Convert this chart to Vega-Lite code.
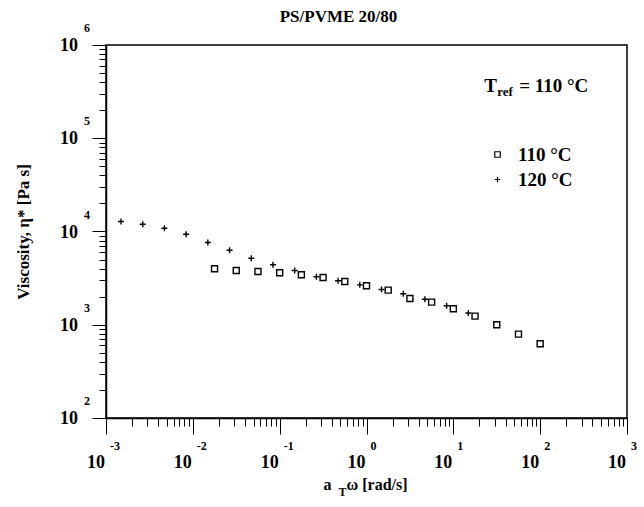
{
  "$schema": "https://vega.github.io/schema/vega-lite/v6.json",
  "autosize": "none",
  "width": 521,
  "height": 373,
  "padding": {"left": 106, "top": 45, "right": 17, "bottom": 89},
  "background": "white",
  "config": {
    "view": {"stroke": "black", "strokeWidth": 1.5},
    "axis": {
      "grid": false,
      "labels": false,
      "domainColor": "black",
      "domainWidth": 1.5,
      "tickColor": "black",
      "tickWidth": 1,
      "titleFont": "Liberation Serif",
      "titleFontWeight": "bold",
      "titleFontSize": 17,
      "titleColor": "black"
    },
    "text": {"font": "Liberation Serif", "fontWeight": "bold", "color": "black"}
  },
  "datasets": {
    "viscosity": [
      {"w": 0.01778, "eta": 3980, "T": "110 °C"},
      {"w": 0.03162, "eta": 3820, "T": "110 °C"},
      {"w": 0.05623, "eta": 3725, "T": "110 °C"},
      {"w": 0.1, "eta": 3607, "T": "110 °C"},
      {"w": 0.1778, "eta": 3434, "T": "110 °C"},
      {"w": 0.3162, "eta": 3215, "T": "110 °C"},
      {"w": 0.5623, "eta": 2912, "T": "110 °C"},
      {"w": 1.0, "eta": 2618, "T": "110 °C"},
      {"w": 1.778, "eta": 2350, "T": "110 °C"},
      {"w": 3.162, "eta": 1915, "T": "110 °C"},
      {"w": 5.623, "eta": 1747, "T": "110 °C"},
      {"w": 10.0, "eta": 1483, "T": "110 °C"},
      {"w": 17.78, "eta": 1236, "T": "110 °C"},
      {"w": 31.62, "eta": 1000, "T": "110 °C"},
      {"w": 56.23, "eta": 793, "T": "110 °C"},
      {"w": 100.0, "eta": 625, "T": "110 °C"},
      {"w": 0.001489, "eta": 12800, "T": "120 °C"},
      {"w": 0.002649, "eta": 11980, "T": "120 °C"},
      {"w": 0.00471, "eta": 10840, "T": "120 °C"},
      {"w": 0.008375, "eta": 9350, "T": "120 °C"},
      {"w": 0.014894, "eta": 7620, "T": "120 °C"},
      {"w": 0.02649, "eta": 6300, "T": "120 °C"},
      {"w": 0.0471, "eta": 5170, "T": "120 °C"},
      {"w": 0.08375, "eta": 4400, "T": "120 °C"},
      {"w": 0.14894, "eta": 3820, "T": "120 °C"},
      {"w": 0.2649, "eta": 3268, "T": "120 °C"},
      {"w": 0.471, "eta": 2960, "T": "120 °C"},
      {"w": 0.8375, "eta": 2680, "T": "120 °C"},
      {"w": 1.4894, "eta": 2388, "T": "120 °C"},
      {"w": 2.649, "eta": 2148, "T": "120 °C"},
      {"w": 4.71, "eta": 1880, "T": "120 °C"},
      {"w": 8.375, "eta": 1597, "T": "120 °C"},
      {"w": 14.894, "eta": 1337, "T": "120 °C"}
    ],
    "decadesX": [
      {"v": 0.001, "e": "-3"},
      {"v": 0.01, "e": "-2"},
      {"v": 0.1, "e": "-1"},
      {"v": 1, "e": "0"},
      {"v": 10, "e": "1"},
      {"v": 100, "e": "2"},
      {"v": 1000, "e": "3"}
    ],
    "decadesY": [
      {"v": 100, "e": "2"},
      {"v": 1000, "e": "3"},
      {"v": 10000, "e": "4"},
      {"v": 100000, "e": "5"},
      {"v": 1000000, "e": "6"}
    ]
  },
  "layer": [
    {
      "data": {"name": "viscosity"},
      "mark": {"type": "point", "filled": false, "color": "black", "strokeWidth": 1.4, "size": 36, "opacity": 1},
      "encoding": {
        "x": {
          "field": "w",
          "type": "quantitative",
          "scale": {"type": "log", "domain": [0.001, 1000], "nice": false},
          "axis": {
            "title": null,
            "values": [0.001, 0.002, 0.003, 0.004, 0.005, 0.006, 0.007, 0.008, 0.009,
                       0.01, 0.02, 0.03, 0.04, 0.05, 0.06, 0.07, 0.08, 0.09,
                       0.1, 0.2, 0.3, 0.4, 0.5, 0.6, 0.7, 0.8, 0.9,
                       1, 2, 3, 4, 5, 6, 7, 8, 9,
                       10, 20, 30, 40, 50, 60, 70, 80, 90,
                       100, 200, 300, 400, 500, 600, 700, 800, 900, 1000],
            "tickSize": {"condition": {"test": "abs(log(datum.value)/LN10 - round(log(datum.value)/LN10)) < 0.001", "value": 16}, "value": 8}
          }
        },
        "y": {
          "field": "eta",
          "type": "quantitative",
          "scale": {"type": "log", "domain": [100, 1000000], "nice": false},
          "axis": {
            "title": "Viscosity, η* [Pa s]",
            "titlePadding": 59,
            "values": [100, 200, 300, 400, 500, 600, 700, 800, 900,
                       1000, 2000, 3000, 4000, 5000, 6000, 7000, 8000, 9000,
                       10000, 20000, 30000, 40000, 50000, 60000, 70000, 80000, 90000,
                       100000, 200000, 300000, 400000, 500000, 600000, 700000, 800000, 900000, 1000000],
            "tickSize": {"condition": {"test": "abs(log(datum.value)/LN10 - round(log(datum.value)/LN10)) < 0.001", "value": 14}, "value": 7}
          }
        },
        "shape": {
          "field": "T",
          "type": "nominal",
          "scale": {"domain": ["110 °C", "120 °C"], "range": ["square", "M-1,0H1M0,-1V1"]},
          "legend": {
            "orient": "none",
            "legendX": 382,
            "legendY": 100,
            "title": null,
            "padding": 0,
            "labelFont": "Liberation Serif",
            "labelFontWeight": "bold",
            "labelFontSize": 19,
            "labelColor": "black",
            "labelOffset": 11,
            "rowPadding": 5,
            "symbolSize": 30,
            "symbolStrokeColor": "black",
            "symbolFillColor": "transparent",
            "symbolStrokeWidth": 1.2
          }
        }
      }
    },
    {
      "data": {"values": [{}]},
      "mark": {"type": "text", "align": "center", "baseline": "alphabetic", "dx": -28, "dy": -23, "fontSize": 17},
      "encoding": {
        "x": {"datum": 1, "type": "quantitative"},
        "y": {"datum": 1000000, "type": "quantitative"},
        "text": {"value": "PS/PVME 20/80"}
      }
    },
    {
      "data": {"name": "decadesX"},
      "mark": {"type": "text", "align": "right", "baseline": "alphabetic", "dx": -1, "dy": 50, "fontSize": 18},
      "encoding": {
        "x": {"field": "v", "type": "quantitative"},
        "y": {"datum": 100, "type": "quantitative"},
        "text": {"value": "10"}
      }
    },
    {
      "data": {"name": "decadesX"},
      "mark": {"type": "text", "align": "left", "baseline": "alphabetic", "dx": 4, "dy": 32, "fontSize": 12},
      "encoding": {
        "x": {"field": "v", "type": "quantitative"},
        "y": {"datum": 100, "type": "quantitative"},
        "text": {"field": "e"}
      }
    },
    {
      "data": {"name": "decadesY"},
      "mark": {"type": "text", "align": "right", "baseline": "alphabetic", "dx": -28, "dy": 6, "fontSize": 18},
      "encoding": {
        "x": {"datum": 0.001, "type": "quantitative"},
        "y": {"field": "v", "type": "quantitative"},
        "text": {"value": "10"}
      }
    },
    {
      "data": {"name": "decadesY"},
      "mark": {"type": "text", "align": "left", "baseline": "alphabetic", "dx": -22, "dy": -13, "fontSize": 12},
      "encoding": {
        "x": {"datum": 0.001, "type": "quantitative"},
        "y": {"field": "v", "type": "quantitative"},
        "text": {"field": "e"}
      }
    },
    {
      "data": {"values": [{}]},
      "mark": {"type": "text", "align": "left", "baseline": "alphabetic", "dx": -43, "dy": 72, "fontSize": 16},
      "encoding": {
        "x": {"datum": 1, "type": "quantitative"},
        "y": {"datum": 100, "type": "quantitative"},
        "text": {"value": "a"}
      }
    },
    {
      "data": {"values": [{}]},
      "mark": {"type": "text", "align": "left", "baseline": "alphabetic", "dx": -28, "dy": 78, "fontSize": 12},
      "encoding": {
        "x": {"datum": 1, "type": "quantitative"},
        "y": {"datum": 100, "type": "quantitative"},
        "text": {"value": "T"}
      }
    },
    {
      "data": {"values": [{}]},
      "mark": {"type": "text", "align": "left", "baseline": "alphabetic", "dx": -20, "dy": 72, "fontSize": 16},
      "encoding": {
        "x": {"datum": 1, "type": "quantitative"},
        "y": {"datum": 100, "type": "quantitative"},
        "text": {"value": "ω  [rad/s]"}
      }
    },
    {
      "data": {"values": [{}]},
      "mark": {"type": "text", "align": "left", "baseline": "alphabetic", "dx": -56, "dy": 47, "fontSize": 19},
      "encoding": {
        "x": {"datum": 100, "type": "quantitative"},
        "y": {"datum": 1000000, "type": "quantitative"},
        "text": {"value": "T"}
      }
    },
    {
      "data": {"values": [{}]},
      "mark": {"type": "text", "align": "left", "baseline": "alphabetic", "dx": -43, "dy": 51, "fontSize": 13},
      "encoding": {
        "x": {"datum": 100, "type": "quantitative"},
        "y": {"datum": 1000000, "type": "quantitative"},
        "text": {"value": "ref"}
      }
    },
    {
      "data": {"values": [{}]},
      "mark": {"type": "text", "align": "left", "baseline": "alphabetic", "dx": -21, "dy": 47, "fontSize": 19},
      "encoding": {
        "x": {"datum": 100, "type": "quantitative"},
        "y": {"datum": 1000000, "type": "quantitative"},
        "text": {"value": "= 110 °C"}
      }
    }
  ]
}
